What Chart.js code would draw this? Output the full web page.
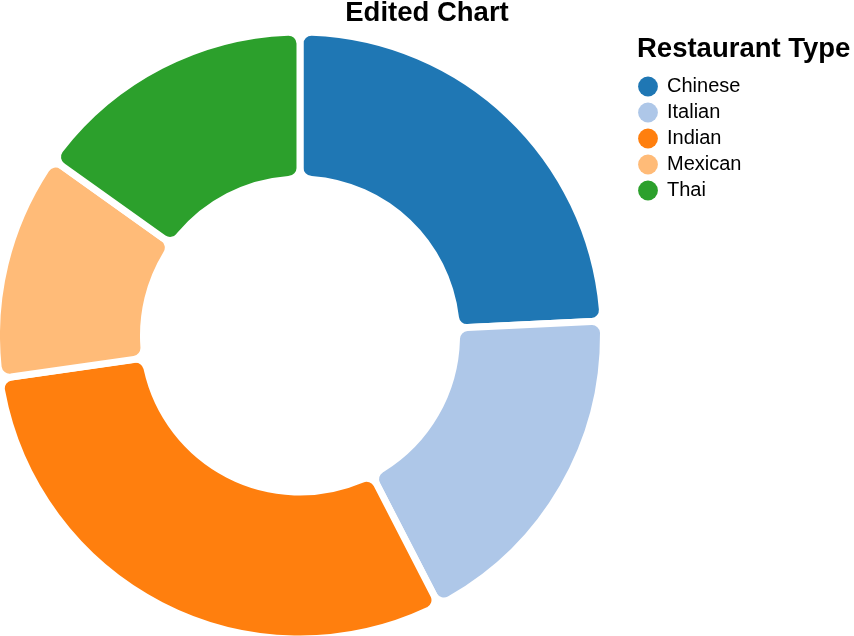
<!DOCTYPE html>
<html>
<head>
<meta charset="utf-8">
<script src="https://cdn.jsdelivr.net/npm/chart.js@4/dist/chart.umd.min.js"></script>
<style>
  html, body { margin: 0; padding: 0; background: #ffffff; }
  #wrap { width: 854px; height: 636px; }
</style>
</head>
<body>
<div id="wrap"><canvas id="c" width="854" height="636"></canvas></div>
<script>
const categories = ["Chinese", "Italian", "Indian", "Mexican", "Thai"];
const values = [24, 18, 30, 12, 15];
const colors = ["#1f77b4", "#aec7e8", "#ff7f0e", "#ffbb78", "#2ca02c"];
const chartTitle = "Edited Chart";
const legendTitle = "Restaurant Type";

const FONT = "'Liberation Sans', Arial, Helvetica, sans-serif";

// Layout adjustment: keep the doughnut in the left 600px and place the legend
const layoutPlugin = {
  id: 'layoutTweak',
  afterLayout(chart) {
    const ca = chart.chartArea;
    chart.chartArea = { left: 0, top: ca.top, right: 600, bottom: ca.bottom, width: 600, height: ca.bottom - ca.top };
    const lg = chart.legend;
    if (lg) {
      lg.left = 633;
      lg.width = 221.4;
      lg.right = lg.left + lg.width;
      lg.top = 35;
      lg.bottom = 636;
      lg.height = lg.bottom - lg.top;
    }
  }
};

new Chart(document.getElementById('c'), {
  type: 'doughnut',
  data: {
    labels: categories,
    datasets: [{
      data: values,
      backgroundColor: colors,
      borderColor: '#ffffff',
      borderWidth: 7,
      borderRadius: 11.5,
      radius: 303.5,
      hoverOffset: 0
    }]
  },
  options: {
    responsive: false,
    animation: false,
    cutout: '51.57%',
    layout: { padding: 0 },
    plugins: {
      title: {
        display: true,
        text: chartTitle,
        color: '#000000',
        font: { family: FONT, size: 27.5, weight: 'bold', lineHeight: 1 },
        padding: { top: 0, bottom: 7.5 }
      },
      legend: {
        display: true,
        position: 'right',
        align: 'start',
        title: {
          display: true,
          text: legendTitle,
          color: '#000000',
          font: { family: FONT, size: 27.5, weight: 'bold', lineHeight: 1 },
          padding: { top: 0.5, bottom: 7.5 }
        },
        labels: {
          usePointStyle: true,
          pointStyle: 'circle',
          boxWidth: 18,
          boxHeight: 14,
          padding: 6,
          color: '#000000',
          font: { family: FONT, size: 20 },
          generateLabels(chart) {
            const items = Chart.overrides.doughnut.plugins.legend.labels.generateLabels(chart);
            items.forEach(it => { it.lineWidth = 0; it.strokeStyle = it.fillStyle; });
            return items;
          }
        }
      },
      tooltip: { enabled: false }
    }
  },
  plugins: [layoutPlugin]
});
</script>
</body>
</html>
